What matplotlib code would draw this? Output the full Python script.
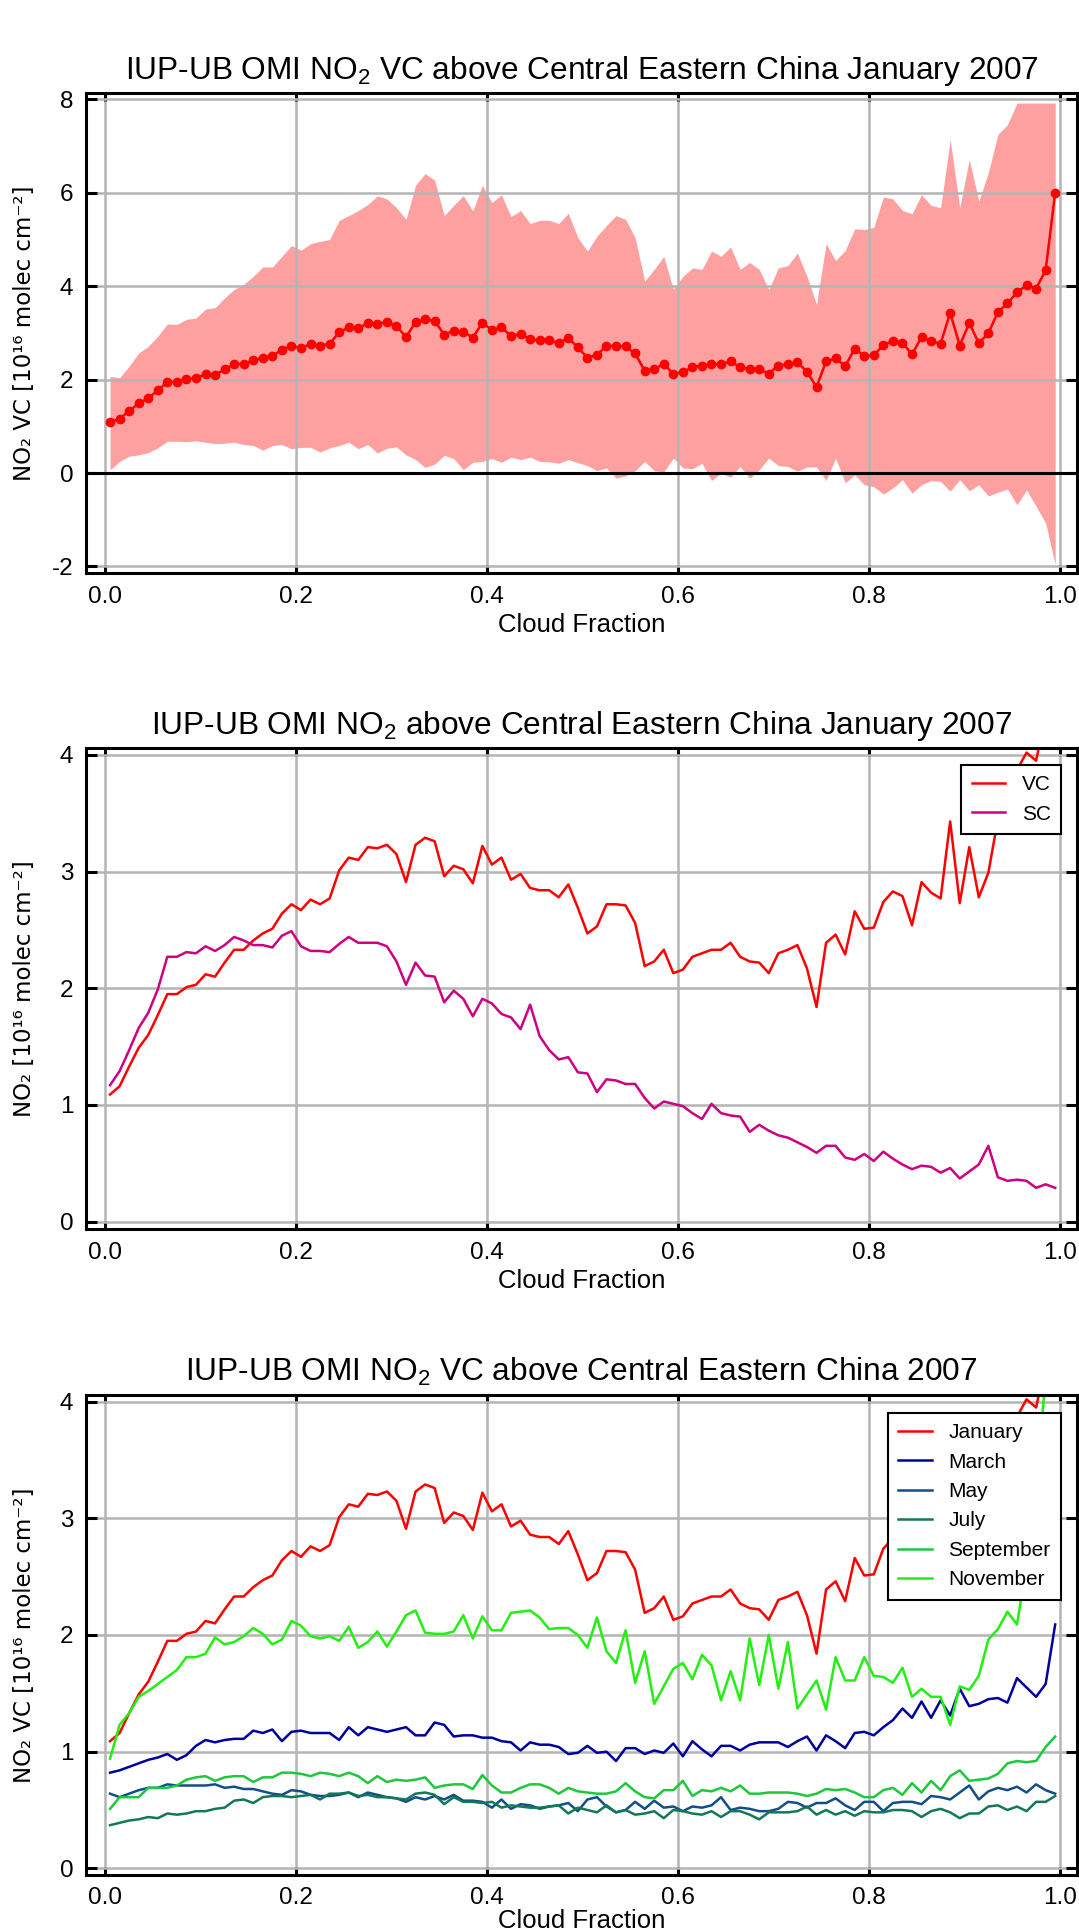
import numpy as np
import matplotlib
matplotlib.use("Agg")
import matplotlib.pyplot as plt
from matplotlib import font_manager

# cloud fraction bin centres (100 bins of width 0.01)
cloud_fraction = np.arange(0.005, 1.0, 0.01)

# January VC mean and +/- spread band
vc_january = [1.09, 1.16, 1.33, 1.49, 1.60, 1.77, 1.95, 1.95, 2.01, 2.03,
              2.12, 2.10, 2.22, 2.33, 2.33, 2.41, 2.47, 2.51, 2.64, 2.72,
              2.67, 2.76, 2.72, 2.77, 3.01, 3.12, 3.10, 3.21, 3.20, 3.23,
              3.15, 2.91, 3.23, 3.29, 3.26, 2.96, 3.05, 3.02, 2.90, 3.22,
              3.06, 3.12, 2.93, 2.98, 2.86, 2.84, 2.84, 2.78, 2.89, 2.69,
              2.47, 2.53, 2.72, 2.72, 2.71, 2.56, 2.19, 2.23, 2.33, 2.13,
              2.16, 2.27, 2.30, 2.33, 2.33, 2.39, 2.27, 2.23, 2.22, 2.13,
              2.30, 2.33, 2.37, 2.17, 1.84, 2.39, 2.46, 2.29, 2.66, 2.51,
              2.52, 2.74, 2.83, 2.79, 2.54, 2.91, 2.82, 2.77, 3.43, 2.73,
              3.21, 2.78, 2.99, 3.45, 3.63, 3.87, 4.02, 3.95, 4.34, 6.00]
vc_upper = [2.07, 2.04, 2.29, 2.57, 2.71, 2.93, 3.19, 3.18, 3.29, 3.32,
            3.51, 3.54, 3.75, 3.93, 4.04, 4.21, 4.41, 4.41, 4.64, 4.87,
            4.77, 4.91, 4.96, 5.00, 5.41, 5.51, 5.62, 5.75, 5.93, 5.87,
            5.68, 5.43, 6.16, 6.41, 6.27, 5.51, 5.73, 5.94, 5.61, 6.16,
            5.79, 5.96, 5.49, 5.62, 5.34, 5.41, 5.41, 5.34, 5.56, 5.04,
            4.75, 5.07, 5.30, 5.51, 5.43, 5.04, 4.11, 4.36, 4.64, 3.93,
            4.21, 4.39, 4.36, 4.75, 4.64, 4.84, 4.36, 4.51, 4.36, 3.93,
            4.39, 4.44, 4.71, 4.21, 3.61, 4.91, 4.55, 4.76, 5.23, 5.21,
            5.26, 5.91, 5.87, 5.62, 5.55, 5.96, 5.73, 5.68, 7.14, 5.68,
            6.71, 5.82, 6.43, 7.25, 7.46, 7.92, 7.92, 7.92, 7.92, 7.92]
vc_lower = [0.07, 0.25, 0.36, 0.39, 0.44, 0.54, 0.68, 0.68, 0.67, 0.69,
            0.66, 0.63, 0.64, 0.66, 0.61, 0.59, 0.49, 0.59, 0.61, 0.52,
            0.55, 0.55, 0.45, 0.54, 0.59, 0.66, 0.52, 0.61, 0.43, 0.53,
            0.56, 0.39, 0.29, 0.12, 0.19, 0.38, 0.31, 0.07, 0.23, 0.25,
            0.31, 0.23, 0.34, 0.29, 0.34, 0.25, 0.24, 0.21, 0.29, 0.22,
            0.16, 0.05, 0.11, -0.11, -0.06, 0.05, 0.25, 0.05, 0.02, 0.32,
            0.11, 0.09, 0.21, -0.16, 0.00, -0.09, 0.14, -0.11, 0.07, 0.32,
            0.16, 0.14, 0.04, 0.13, 0.13, -0.16, 0.32, -0.21, -0.04, -0.25,
            -0.29, -0.45, -0.32, -0.14, -0.43, -0.25, -0.16, -0.18, -0.39, -0.14,
            -0.38, -0.25, -0.49, -0.41, -0.34, -0.68, -0.36, -0.71, -1.07, -1.96]

# January slant column
sc_january = [1.17, 1.29, 1.47, 1.66, 1.79, 1.99, 2.27, 2.27, 2.31, 2.30,
              2.36, 2.32, 2.37, 2.44, 2.41, 2.37, 2.37, 2.35, 2.45, 2.49,
              2.36, 2.32, 2.32, 2.31, 2.38, 2.44, 2.39, 2.39, 2.39, 2.36,
              2.23, 2.03, 2.22, 2.11, 2.10, 1.88, 1.98, 1.91, 1.76, 1.91,
              1.87, 1.78, 1.75, 1.65, 1.86, 1.59, 1.47, 1.39, 1.41, 1.28,
              1.27, 1.11, 1.22, 1.21, 1.18, 1.18, 1.06, 0.97, 1.03, 1.01,
              0.99, 0.93, 0.88, 1.01, 0.93, 0.91, 0.90, 0.77, 0.83, 0.78,
              0.74, 0.72, 0.68, 0.64, 0.59, 0.65, 0.65, 0.55, 0.53, 0.58,
              0.52, 0.60, 0.54, 0.49, 0.45, 0.48, 0.47, 0.42, 0.46, 0.37,
              0.43, 0.49, 0.65, 0.38, 0.35, 0.36, 0.35, 0.29, 0.32, 0.29]

# other months (VC)
vc_march = [0.82, 0.84, 0.87, 0.90, 0.93, 0.95, 0.98, 0.93, 0.97, 1.05,
            1.10, 1.08, 1.10, 1.11, 1.11, 1.18, 1.16, 1.19, 1.09, 1.17,
            1.18, 1.16, 1.16, 1.16, 1.10, 1.21, 1.14, 1.21, 1.19, 1.17,
            1.19, 1.21, 1.14, 1.14, 1.25, 1.23, 1.13, 1.14, 1.14, 1.12,
            1.12, 1.09, 1.08, 1.01, 1.08, 1.06, 1.06, 1.04, 0.98, 0.99,
            1.05, 0.99, 1.00, 0.92, 1.03, 1.03, 0.98, 1.01, 0.99, 1.07,
            0.96, 1.09, 1.02, 0.96, 1.05, 1.05, 1.01, 1.06, 1.08, 1.08,
            1.08, 1.04, 1.09, 1.13, 1.01, 1.14, 1.09, 1.03, 1.16, 1.17,
            1.14, 1.21, 1.27, 1.37, 1.29, 1.43, 1.29, 1.44, 1.31, 1.54,
            1.39, 1.41, 1.45, 1.46, 1.42, 1.63, 1.55, 1.47, 1.58, 2.09]
vc_may = [0.64, 0.61, 0.64, 0.67, 0.69, 0.69, 0.72, 0.71, 0.71, 0.71,
          0.71, 0.72, 0.69, 0.70, 0.68, 0.68, 0.66, 0.64, 0.63, 0.67,
          0.66, 0.63, 0.62, 0.62, 0.63, 0.65, 0.61, 0.65, 0.63, 0.61,
          0.60, 0.57, 0.61, 0.59, 0.62, 0.59, 0.63, 0.58, 0.58, 0.57,
          0.52, 0.59, 0.51, 0.55, 0.54, 0.51, 0.53, 0.54, 0.56, 0.49,
          0.59, 0.61, 0.53, 0.48, 0.50, 0.57, 0.51, 0.58, 0.52, 0.53,
          0.49, 0.53, 0.52, 0.54, 0.61, 0.50, 0.52, 0.51, 0.49, 0.49,
          0.51, 0.57, 0.56, 0.52, 0.56, 0.56, 0.60, 0.54, 0.50, 0.57,
          0.57, 0.49, 0.56, 0.57, 0.57, 0.55, 0.62, 0.61, 0.59, 0.65,
          0.71, 0.59, 0.66, 0.69, 0.67, 0.70, 0.65, 0.72, 0.67, 0.64]
vc_july = [0.37, 0.39, 0.41, 0.42, 0.44, 0.43, 0.47, 0.46, 0.47, 0.49,
           0.49, 0.51, 0.52, 0.58, 0.59, 0.56, 0.61, 0.62, 0.62, 0.61,
           0.62, 0.63, 0.59, 0.64, 0.64, 0.65, 0.62, 0.63, 0.61, 0.61,
           0.60, 0.59, 0.64, 0.65, 0.63, 0.55, 0.61, 0.57, 0.57, 0.56,
           0.57, 0.52, 0.54, 0.53, 0.52, 0.52, 0.53, 0.54, 0.47, 0.52,
           0.50, 0.48, 0.54, 0.48, 0.50, 0.46, 0.47, 0.49, 0.43, 0.50,
           0.49, 0.47, 0.46, 0.49, 0.44, 0.49, 0.49, 0.46, 0.42, 0.48,
           0.48, 0.48, 0.49, 0.53, 0.46, 0.50, 0.46, 0.49, 0.45, 0.49,
           0.48, 0.48, 0.50, 0.50, 0.49, 0.44, 0.49, 0.51, 0.48, 0.43,
           0.47, 0.47, 0.53, 0.54, 0.50, 0.53, 0.49, 0.57, 0.57, 0.62]
vc_september = [0.51, 0.61, 0.61, 0.61, 0.69, 0.69, 0.69, 0.71, 0.76, 0.78,
                0.79, 0.75, 0.78, 0.79, 0.79, 0.74, 0.78, 0.78, 0.82, 0.82,
                0.81, 0.79, 0.82, 0.81, 0.79, 0.82, 0.79, 0.73, 0.79, 0.74,
                0.76, 0.75, 0.76, 0.78, 0.69, 0.71, 0.72, 0.72, 0.68, 0.80,
                0.71, 0.65, 0.65, 0.69, 0.72, 0.72, 0.69, 0.64, 0.69, 0.66,
                0.65, 0.64, 0.64, 0.66, 0.73, 0.66, 0.61, 0.60, 0.67, 0.67,
                0.75, 0.62, 0.67, 0.66, 0.69, 0.66, 0.71, 0.64, 0.64, 0.65,
                0.65, 0.65, 0.64, 0.62, 0.64, 0.68, 0.67, 0.68, 0.65, 0.61,
                0.61, 0.67, 0.69, 0.63, 0.73, 0.65, 0.75, 0.67, 0.79, 0.84,
                0.75, 0.76, 0.77, 0.81, 0.90, 0.92, 0.91, 0.92, 1.04, 1.13]
vc_november = [0.94, 1.23, 1.33, 1.47, 1.52, 1.58, 1.64, 1.70, 1.81, 1.81,
               1.84, 1.98, 1.92, 1.94, 1.99, 2.06, 2.01, 1.92, 1.96, 2.12,
               2.08, 1.99, 1.97, 1.99, 1.95, 2.07, 1.89, 1.94, 2.03, 1.90,
               2.03, 2.17, 2.21, 2.02, 2.01, 2.01, 2.03, 2.17, 1.97, 2.16,
               2.04, 2.04, 2.19, 2.20, 2.21, 2.15, 2.05, 2.06, 2.06, 2.00,
               1.89, 2.15, 1.86, 1.76, 2.04, 1.59, 1.86, 1.41, 1.56, 1.71,
               1.76, 1.62, 1.83, 1.74, 1.44, 1.69, 1.44, 1.97, 1.57, 2.00,
               1.54, 1.94, 1.37, 1.49, 1.61, 1.36, 1.81, 1.61, 1.61, 1.81,
               1.65, 1.64, 1.59, 1.72, 1.47, 1.54, 1.47, 1.47, 1.23, 1.56,
               1.53, 1.65, 1.96, 2.05, 2.20, 2.09, 2.60, 3.30, 4.20, 4.30]

month_names = ["January", "March", "May", "July", "September", "November"]
month_colors = ["#ff0000", "#00009c", "#124e88", "#127858", "#1ec83c", "#22f010"]

names = {f.name for f in font_manager.fontManager.ttflist}
NARROW = "Liberation Sans Narrow" if "Liberation Sans Narrow" in names else "Liberation Sans"

plt.rcParams["font.family"] = [NARROW, "DejaVu Sans"]
plt.rcParams["axes.unicode_minus"] = False
plt.rcParams["mathtext.fontset"] = "custom"
plt.rcParams["mathtext.rm"] = NARROW
plt.rcParams["mathtext.it"] = NARROW
plt.rcParams["mathtext.bf"] = NARROW

YLAB_VC = "NO\u2082 VC [10\u00b9\u2076 molec cm\u207b\u00b2]"
YLAB_NO2 = "NO\u2082 [10\u00b9\u2076 molec cm\u207b\u00b2]"


def style_axes(ax, ylim, yticks, title, ylabel, xlabelpad=4):
    ax.set_xlim(-0.0202, 1.0178)
    ax.set_ylim(*ylim)
    ax.set_xticks([0.0, 0.2, 0.4, 0.6, 0.8, 1.0])
    ax.set_xticklabels(["0.0", "0.2", "0.4", "0.6", "0.8", "1.0"])
    ax.set_yticks(yticks)
    ax.set_yticklabels([str(t) for t in yticks])
    ax.set_axisbelow(True)
    ax.grid(True, color="#b4b4b4", linewidth=1.8)
    for sp in ax.spines.values():
        sp.set_linewidth(2.2)
    ax.tick_params(axis="both", direction="in", width=2.2, top=True, right=True,
                   labelsize=17.5, pad=9)
    ax.tick_params(axis="x", length=6)
    ax.tick_params(axis="y", length=8)
    ax.set_title(title, fontsize=22.8, pad=10)
    ax.set_xlabel("Cloud Fraction", fontsize=18.5, labelpad=xlabelpad)
    ax.set_ylabel(ylabel, fontsize=16.5, family="DejaVu Sans")
    ax.yaxis.set_label_coords(-0.05, 0.5)


def add_legend(ax, anchor):
    leg = ax.legend(loc="upper right", bbox_to_anchor=anchor, borderaxespad=0,
                    fancybox=False, edgecolor="black", framealpha=1,
                    handlelength=1.6, labelspacing=0.5, borderpad=0.5,
                    prop={"family": "Liberation Sans", "size": 15})
    leg.get_frame().set_linewidth(1.5)
    return leg


fig = plt.figure(figsize=(10.79, 19.30), dpi=100)

# panel 1: January VC with spread
ax1 = fig.add_axes([0.0797, 0.7031, 0.9184, 0.2487])
ax1.fill_between(cloud_fraction, vc_lower, vc_upper, color="#ffa0a0", linewidth=0, zorder=0.3)
ax1.axhline(0, color="black", linewidth=2.2, zorder=1.5)
ax1.plot(cloud_fraction, vc_january, color="#ff0000", linewidth=1.8, marker="o",
         markersize=6, zorder=3)
style_axes(ax1, (-2.14, 8.135), [-2, 0, 2, 4, 6, 8],
           "IUP-UB OMI NO$_2$ VC above Central Eastern China January 2007", YLAB_VC)

# panel 2: January VC vs SC
ax2 = fig.add_axes([0.0797, 0.3632, 0.9184, 0.2491])
ax2.plot(cloud_fraction, vc_january, color="#ff0000", linewidth=1.8, label="VC")
ax2.plot(cloud_fraction, sc_january, color="#cc0080", linewidth=1.8, label="SC")
style_axes(ax2, (-0.063, 4.057), [0, 1, 2, 3, 4],
           "IUP-UB OMI NO$_2$ above Central Eastern China January 2007", YLAB_NO2)
add_legend(ax2, (0.9839, 0.9653))

# panel 3: seasonal comparison
ax3 = fig.add_axes([0.0797, 0.0285, 0.9184, 0.2487])
month_series = [vc_january, vc_march, vc_may, vc_july, vc_september, vc_november]
for name, color, vals in zip(month_names, month_colors, month_series):
    ax3.plot(cloud_fraction, vals, color=color, linewidth=1.8, label=name)
style_axes(ax3, (-0.057, 4.057), [0, 1, 2, 3, 4],
           "IUP-UB OMI NO$_2$ VC above Central Eastern China 2007", YLAB_VC, xlabelpad=0)
add_legend(ax3, (0.9839, 0.963))

fig.savefig("out.png", dpi=100)
